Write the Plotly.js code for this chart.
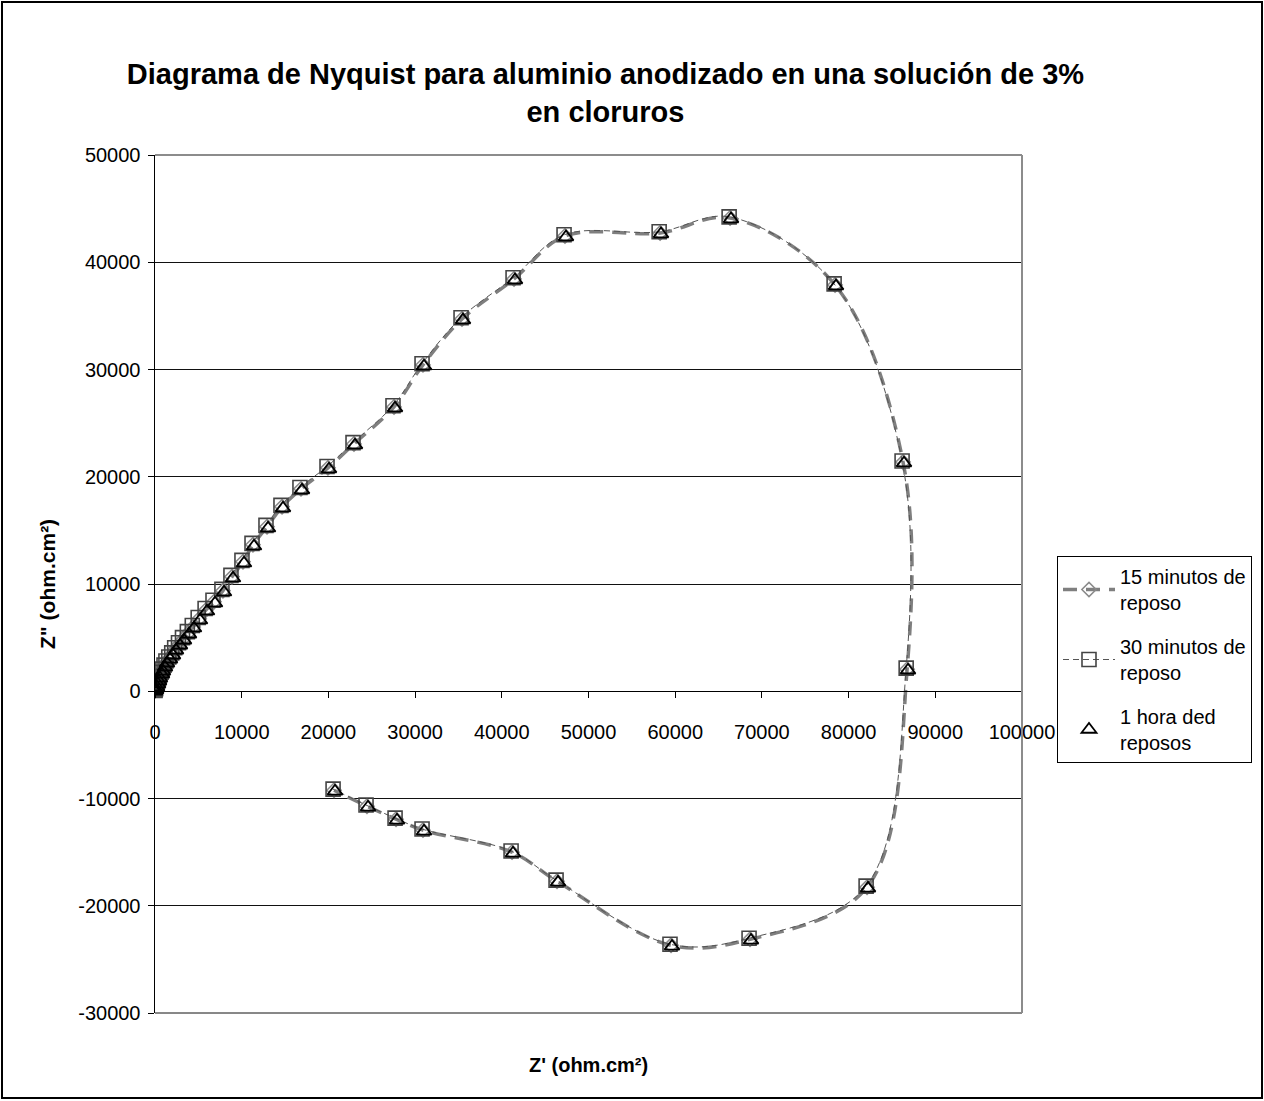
<!DOCTYPE html>
<html>
<head>
<meta charset="utf-8">
<script src="https://cdn.plot.ly/plotly-3.0.1.min.js"></script>
<style>
  html, body { margin: 0; padding: 0; background: #fff; }
  #wrap { position: relative; width: 1264px; height: 1101px; }
  #chart { width: 1264px; height: 1101px; }
  #frame { position: absolute; left: 1px; top: 1px; width: 1262px; height: 1098px; box-sizing: border-box; border: 2px solid #000; pointer-events: none; }
</style>
</head>
<body>
<div id="wrap"><div id="chart"></div><div id="frame"></div></div>
<script>
// Series names
const seriesNames = ["15 minutos de<br>reposo", "30 minutos de<br>reposo", "1 hora ded<br>reposos"];

// 15 minutos de reposo (Z', Z'')
const zr15 = [0,30,60,90,190,300,420,530,750,870,1100,1320,1660,2000,2350,2800,3260,3830,4400,5090,5890,6800,7840,8880,10150,11300,12920,14650,16840,19950,22950,27570,30910,35410,41410,47290,58260,66330,78440,86280,86750,82130,68630,59520,46370,41180,30910,27800,24450,20650];
const zi15 = [40,90,150,240,440,730,1010,1300,1680,1960,2340,2720,3090,3470,3940,4410,4880,5440,6000,6750,7590,8340,9370,10670,12070,13660,15340,17200,18870,20830,23060,26510,30430,34710,38440,42450,42730,44130,37880,21370,2060,-18270,-23130,-23690,-17710,-15000,-12950,-11930,-10720,-9230];

// 30 minutos de reposo
const zr30 = [0,20,40,60,150,260,380,490,700,820,1040,1260,1590,1930,2270,2710,3170,3730,4300,4980,5780,6690,7720,8760,10030,11190,12800,14530,16720,19840,22840,27450,30800,35300,41300,47180,58150,66220,78330,86170,86640,82020,68520,59400,46260,41070,30800,27690,24340,20540];
const zi30 = [80,140,200,290,500,800,1090,1380,1770,2060,2440,2820,3200,3580,4050,4520,5000,5560,6130,6880,7720,8480,9500,10800,12200,13790,15470,17330,19000,20950,23180,26620,30540,34820,38550,42560,42840,44230,37980,21470,2160,-18170,-23030,-23590,-17610,-14900,-12850,-11830,-10610,-9130];

// 1 hora de reposo
const zr60 = [0,40,75,115,231,346,461,577,807,923,1153,1384,1730,2076,2422,2884,3345,3922,4498,5190,5998,6920,7958,8997,10265,11419,13033,14763,16955,20069,23068,27682,31026,35524,41521,47405,58362,66436,78547,86390,86851,82237,68742,59630,46482,41292,31026,27912,24567,20761];
const zi60 = [0,60,120,187,373,653,933,1213,1586,1865,2239,2612,2985,3358,3824,4291,4757,5317,5877,6623,7462,8209,9235,10541,11940,13526,15205,17070,18749,20708,22947,26398,30316,34607,38338,42349,42629,44028,37778,21268,1959,-18376,-23226,-23786,-17816,-15111,-13059,-12033,-10820,-9328];

// Tick values / labels
const xTickVals = [0,10000,20000,30000,40000,50000,60000,70000,80000,90000,100000];
const xTickText = ["0","10000","20000","30000","40000","50000","60000","70000","80000","90000","100000"];
const yTickVals = [-30000,-20000,-10000,0,10000,20000,30000,40000,50000];
const yTickText = ["-30000","-20000","-10000","0","10000","20000","30000","40000","50000"];

const FONT = "Liberation Sans, Arial, sans-serif";

const traces = [
  {
    type: "scatter", mode: "lines+markers", name: seriesNames[0],
    x: zr15, y: zi15, legendgroup: "a",
    line: { color: "#7f7f7f", width: 3.5, shape: "spline", smoothing: 1, dash: "14px,9px" },
    marker: { symbol: "diamond-open", size: 11, color: "#8a8a8a", line: { width: 1.5, color: "#8a8a8a" } }
  },
  {
    type: "scatter", mode: "lines+markers", name: seriesNames[1],
    x: zr30, y: zi30, legendgroup: "b",
    line: { color: "#555555", width: 1, shape: "spline", smoothing: 1, dash: "6px,4px" },
    marker: { symbol: "square-open", size: 14, color: "#444444", line: { width: 1.6, color: "#444444" } }
  },
  {
    type: "scatter", mode: "markers", name: seriesNames[2],
    x: zr60, y: zi60, legendgroup: "c",
    marker: { symbol: "triangle-up-open", size: 13, color: "#000000", line: { width: 1.8, color: "#000000" } }
  }
];

const layout = {
  width: 1264, height: 1101,
  paper_bgcolor: "#ffffff", plot_bgcolor: "#ffffff",
  margin: { l: 155, r: 242, t: 155, b: 88, pad: 0 },
  font: { family: FONT, color: "#000000", size: 20 },
  title: {
    text: "Diagrama de Nyquist para aluminio anodizado en una solución de 3%<br>en cloruros",
    font: { family: FONT, size: 29, weight: "bold", color: "#000000" },
    xref: "container", x: 0.479, xanchor: "center",
    yref: "container", y: 1 - 84 / 1101, yanchor: "middle"
  },
  xaxis: {
    range: [0, 100000], autorange: false,
    tickmode: "array", tickvals: xTickVals, ticktext: xTickText,
    showgrid: false, zeroline: false,
    showline: true, linecolor: "#000000", linewidth: 1,
    ticks: "outside", ticklen: 6, tickcolor: "#000000", tickwidth: 1,
    tickfont: { family: FONT, size: 20, color: "#000000" },
    ticklabelstandoff: 17,
    anchor: "free", position: (1013 - 691) / 858,
    automargin: false, fixedrange: true
  },
  yaxis: {
    range: [-30000, 50000], autorange: false,
    tickmode: "array", tickvals: yTickVals, ticktext: yTickText,
    showgrid: true, gridcolor: "#111111", gridwidth: 1,
    zeroline: false,
    showline: true, linecolor: "#000000", linewidth: 1.5,
    ticks: "outside", ticklen: 6, tickcolor: "#000000", tickwidth: 1,
    tickfont: { family: FONT, size: 20, color: "#000000" },
    ticklabelstandoff: 3,
    automargin: false, fixedrange: true
  },
  showlegend: true,
  legend: {
    x: (1057 - 155) / 867, xanchor: "left",
    y: (1013 - 556) / 858, yanchor: "top",
    bordercolor: "#000000", borderwidth: 1, bgcolor: "#ffffff",
    font: { family: FONT, size: 20, color: "#000000" },
    traceorder: "grouped", tracegroupgap: 15,
    itemwidth: 52
  },
  shapes: [
    { type: "line", xref: "paper", yref: "paper", x0: 0, x1: 1, y0: 1, y1: 1, line: { color: "#8c8c8c", width: 2 }, layer: "above" },
    { type: "line", xref: "paper", yref: "paper", x0: 1, x1: 1, y0: 0, y1: 1, line: { color: "#8c8c8c", width: 2 }, layer: "above" },
    { type: "line", xref: "paper", yref: "paper", x0: 0, x1: 1, y0: 0, y1: 0, line: { color: "#111111", width: 1 }, layer: "below" }
  ],
  annotations: [
    {
      text: "Z' (ohm.cm²)", xref: "paper", yref: "paper",
      x: 0.5, y: (1013 - 1065) / 858, xanchor: "center", yanchor: "middle",
      showarrow: false, font: { family: FONT, size: 20, weight: "bold", color: "#000000" }
    },
    {
      text: "Z\" (ohm.cm²)", xref: "paper", yref: "paper",
      x: (47 - 155) / 867, y: 0.5, xanchor: "center", yanchor: "middle",
      textangle: -90,
      showarrow: false, font: { family: FONT, size: 21, weight: "bold", color: "#000000" }
    }
  ]
};

Plotly.newPlot("chart", traces, layout, { displayModeBar: false, staticPlot: true });
</script>
</body>
</html>
